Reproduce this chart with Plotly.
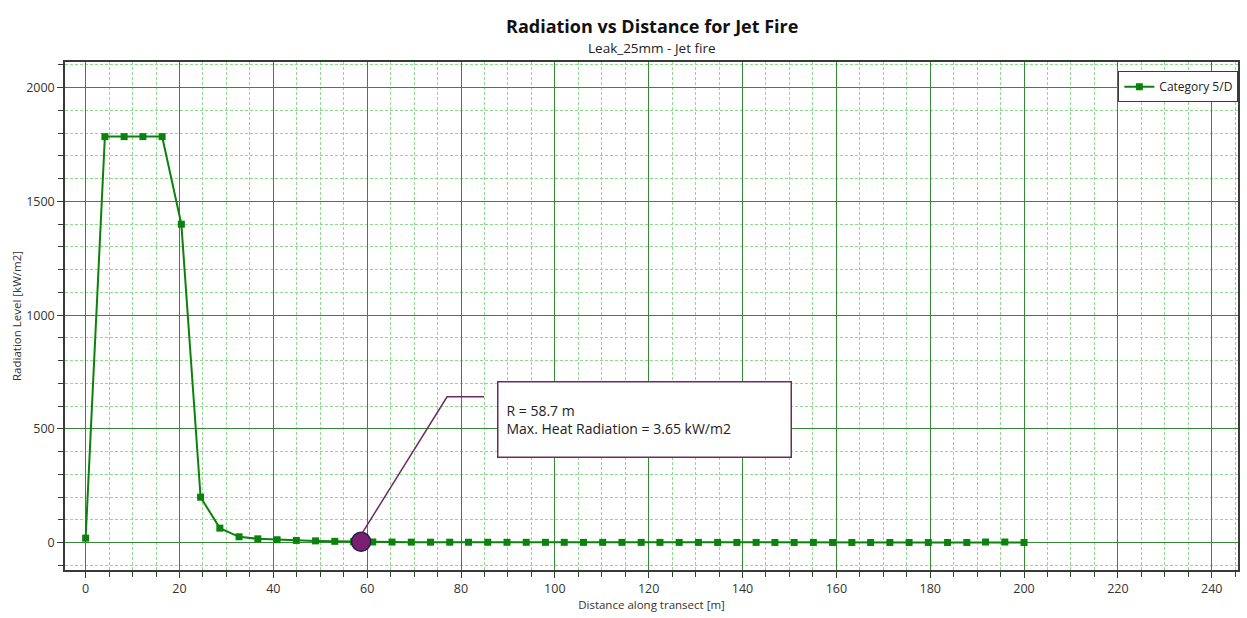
import plotly.graph_objects as go

# ---- data ----
distance_m = [0, 4.1, 8.2, 12.2, 16.3, 20.4, 24.5, 28.6, 32.7, 36.7,
              40.8, 44.9, 49.0, 53.1, 57.1, 61.2, 65.3, 69.4, 73.5, 77.6,
              81.6, 85.7, 89.8, 93.9, 98.0, 102.0, 106.1, 110.2, 114.3, 118.4,
              122.4, 126.5, 130.6, 134.7, 138.8, 142.9, 146.9, 151.0, 155.1, 159.2,
              163.3, 167.3, 171.4, 175.5, 179.6, 183.7, 187.8, 191.8, 195.9, 200.0]
radiation_kw_m2 = [20, 1785, 1785, 1785, 1785, 1400, 200, 64, 26, 17,
                   13, 10, 8, 6, 4.5, 3.2, 2.8, 2.5, 2.3, 2.1,
                   2.0, 1.9, 1.8, 1.7, 1.6, 1.6, 1.5, 1.5, 1.4, 1.4,
                   1.3, 1.3, 1.3, 1.2, 1.2, 1.2, 1.1, 1.1, 1.1, 1.1,
                   1.0, 1.0, 1.0, 1.0, 1.0, 1.0, 1.0, 3.0, 3.0, 1.0]
series_name = "Category 5/D"

marker_R = [58.7]
marker_value = [3.65]
annot_lines = ["R = 58.7 m", "Max. Heat Radiation = 3.65 kW/m2"]

title_text = "Radiation vs Distance for Jet Fire"
subtitle_text = "Leak_25mm - Jet fire"
x_title = "Distance along transect [m]"
y_title = "Radiation Level [kW/m2]"

# ---- styles ----
FONT = "Open Sans"
GREEN = "#0b820b"
MAJOR_GRID = "#358a35"
MINOR_GRID = "#8fdc8f"
AXIS = "#3a3a3a"
PURPLE = "#6e2a63"
TXT = "#333333"

fig = go.Figure()
fig.add_trace(go.Scatter(
    x=distance_m, y=radiation_kw_m2, mode="lines+markers", name=series_name,
    line=dict(color=GREEN, width=2),
    marker=dict(symbol="square", size=7, color=GREEN),
))
fig.add_trace(go.Scatter(
    x=marker_R, y=marker_value, mode="markers", showlegend=False,
    marker=dict(symbol="circle", size=19, color="#7b1f72",
                line=dict(color="#25204a", width=1.5)),
))

# leader line (pixel offsets from the marked point)
fig.add_shape(type="path", xref="x", yref="y",
              xsizemode="pixel", ysizemode="pixel",
              xanchor=marker_R[0], yanchor=marker_value[0],
              path="M 0 7 L 86 145 L 123 145",
              line=dict(color=PURPLE, width=1.5))

fig.add_annotation(
    x=marker_R[0], y=marker_value[0], xref="x", yref="y",
    text="<br>".join(annot_lines), showarrow=False, align="left",
    xanchor="left", yanchor="middle", xshift=136, yshift=122,
    width=276, height=58, borderpad=8, bordercolor=PURPLE, borderwidth=1.5,
    bgcolor="white", font=dict(family=FONT, size=14, color="#222222"),
)

fig.add_annotation(x=0.5, y=1, xref="paper", yref="paper", text="<b>" + title_text + "</b>",
                   showarrow=False, yanchor="middle", yshift=36,
                   font=dict(family=FONT, size=18, color="#111111"))
fig.add_annotation(x=0.5, y=1, xref="paper", yref="paper", text=subtitle_text,
                   showarrow=False, yanchor="middle", yshift=14,
                   font=dict(family=FONT, size=13.5, color="#222222"))

fig.update_xaxes(
    range=[-4.4, 245.6], tickmode="linear", tick0=0, dtick=20,
    showgrid=True, gridcolor=MAJOR_GRID, gridwidth=1, zeroline=False,
    showline=True, mirror=True, linecolor=AXIS, linewidth=1.5,
    ticks="outside", ticklen=6, tickcolor=AXIS,
    tickfont=dict(family=FONT, size=12.5, color=TXT),
    minor=dict(tick0=0, dtick=5, showgrid=True, gridcolor=MINOR_GRID, griddash="3px,2px",
               gridwidth=1, ticks="outside", ticklen=5, tickcolor=AXIS),
    title=dict(text=x_title, standoff=4, font=dict(family=FONT, size=11.5, color=TXT)),
)
fig.update_yaxes(
    range=[-120, 2113], tickmode="linear", tick0=0, dtick=500,
    showgrid=True, gridcolor=MAJOR_GRID, gridwidth=1, zeroline=False,
    showline=True, mirror=True, linecolor=AXIS, linewidth=1.5,
    ticks="outside", ticklen=6, tickcolor=AXIS,
    tickfont=dict(family=FONT, size=12.5, color=TXT),
    minor=dict(tick0=0, dtick=100, showgrid=True, gridcolor=MINOR_GRID, griddash="3px,2px",
               gridwidth=1, ticks="outside", ticklen=5, tickcolor=AXIS),
    title=dict(text=y_title, standoff=2, font=dict(family=FONT, size=11.5, color=TXT)),
)

fig.update_layout(
    width=1247, height=618, autosize=False,
    margin=dict(l=65, r=7, t=62, b=48),
    paper_bgcolor="white", plot_bgcolor="white",
    font=dict(family=FONT, color=TXT),
    showlegend=True,
    legend=dict(x=0.898, y=0.982, xanchor="left", yanchor="top",
                bgcolor="white", bordercolor=AXIS, borderwidth=1,
                font=dict(family=FONT, size=12, color="#222222"),
                itemwidth=30, tracegroupgap=0),
)

fig.write_html("out.html")
